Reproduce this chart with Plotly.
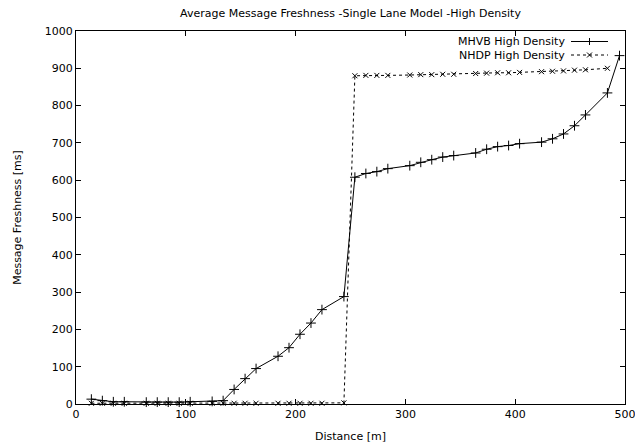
import plotly.graph_objects as go

# Data
mhvb_x = [14, 24, 34, 44, 64, 74, 84, 94, 104, 124, 134, 144, 154, 164, 184, 194,
          204, 214, 224, 244, 254, 264, 274, 284, 304, 314, 324, 334, 344, 364,
          374, 384, 394, 404, 424, 434, 444, 454, 464, 484, 495]
mhvb_y = [13, 9, 6, 6, 5, 5, 5, 5, 6, 7, 9, 39, 68, 95, 128, 151,
          187, 217, 253, 288, 608, 618, 623, 631, 639, 648, 655, 662, 666, 673,
          683, 690, 693, 698, 702, 711, 724, 746, 775, 834, 934]

nhdp_x = [14, 24, 34, 44, 64, 74, 84, 94, 104, 124, 134, 144, 154, 164, 184, 194,
          204, 214, 224, 244, 254, 264, 274, 284, 304, 314, 324, 334, 344, 364,
          374, 384, 394, 404, 424, 434, 444, 454, 464, 484]
nhdp_y = [2, 2, 2, 2, 2, 2, 2, 2, 2, 2, 2, 2, 2, 2, 2, 2,
          2, 2, 2, 3, 880, 881, 881, 881, 882, 883, 883, 884, 884, 886,
          887, 888, 888, 889, 891, 892, 893, 895, 896, 900]

x_ticks = [0, 100, 200, 300, 400, 500]
y_ticks = [0, 100, 200, 300, 400, 500, 600, 700, 800, 900, 1000]

series_names = ["MHVB High Density", "NHDP High Density"]
title = "Average Message Freshness -Single Lane Model -High Density"
x_title = "Distance [m]"
y_title = "Message Freshness [ms]"

FONT = "DejaVu Sans, Liberation Sans, Arial, sans-serif"
FS = 11

W, H = 635, 446
ML, MR, MT, MB = 76, 10, 31, 42
PW, PH = W - ML - MR, H - MT - MB

fig = go.Figure()
fig.add_trace(go.Scatter(
    x=mhvb_x, y=mhvb_y, mode="lines+markers", name=series_names[0],
    line=dict(color="black", width=1),
    marker=dict(symbol="cross-thin", size=7, color="black",
                line=dict(color="black", width=1)),
    showlegend=False, cliponaxis=False,
))
fig.add_trace(go.Scatter(
    x=nhdp_x, y=nhdp_y, mode="lines+markers", name=series_names[1],
    line=dict(color="black", width=1, dash="3px,3px"),
    marker=dict(symbol="x-thin", size=5, color="black",
                line=dict(color="black", width=1)),
    showlegend=False, cliponaxis=False,
))

axis_common = dict(
    showgrid=False, zeroline=False, showline=True, linecolor="black",
    linewidth=1, ticks="inside", ticklen=5, tickcolor="black", mirror="allticks",
    tickfont=dict(family=FONT, size=FS, color="black"), automargin=False,
    ticklabeloverflow="allow",
)

# window pixel -> paper coordinates
def px_to_paper_x(p):
    return (p - ML) / PW

def px_to_paper_y(p):
    return (H - MB - p) / PH

key_text_right = px_to_paper_x(567)
key_rows = [px_to_paper_y(41.5), px_to_paper_y(55)]
key_x0, key_x1 = px_to_paper_x(571), px_to_paper_x(608)
key_mid = px_to_paper_x(589.5)
dx, dy = 3.5 / PW, 3.5 / PH

annotations = []
shapes = []
for i, name in enumerate(series_names):
    yk = key_rows[i]
    annotations.append(dict(
        text=name, xref="paper", yref="paper", x=key_text_right, y=yk,
        xanchor="right", yanchor="middle", showarrow=False,
        font=dict(family=FONT, size=FS, color="black"),
    ))
    shapes.append(dict(
        type="line", xref="paper", yref="paper", x0=key_x0, x1=key_x1,
        y0=yk, y1=yk,
        line=dict(color="black", width=1, dash="solid" if i == 0 else "3px,3px"),
    ))
    if i == 0:
        shapes.append(dict(type="line", xref="paper", yref="paper",
                           x0=key_mid - dx, x1=key_mid + dx, y0=yk, y1=yk,
                           line=dict(color="black", width=1)))
        shapes.append(dict(type="line", xref="paper", yref="paper",
                           x0=key_mid, x1=key_mid, y0=yk - dy, y1=yk + dy,
                           line=dict(color="black", width=1)))
    else:
        d2x, d2y = 2.5 / PW, 2.5 / PH
        shapes.append(dict(type="line", xref="paper", yref="paper",
                           x0=key_mid - d2x, x1=key_mid + d2x,
                           y0=yk - d2y, y1=yk + d2y,
                           line=dict(color="black", width=1)))
        shapes.append(dict(type="line", xref="paper", yref="paper",
                           x0=key_mid - d2x, x1=key_mid + d2x,
                           y0=yk + d2y, y1=yk - d2y,
                           line=dict(color="black", width=1)))

fig.update_layout(
    width=W, height=H,
    margin=dict(l=ML, r=MR, t=MT, b=MB, pad=0),
    paper_bgcolor="white", plot_bgcolor="white",
    font=dict(family=FONT, size=FS, color="black"),
    title=dict(text=title, x=0.5, xref="paper", xanchor="center",
               y=1 - 13 / H, yref="container", yanchor="middle",
               font=dict(family=FONT, size=FS, color="black")),
    xaxis=dict(range=[0, 500], tickvals=x_ticks,
               title=dict(text=x_title, standoff=12,
                          font=dict(family=FONT, size=FS)), **axis_common),
    yaxis=dict(range=[0, 1000], tickvals=y_ticks,
               title=dict(text=y_title, standoff=20,
                          font=dict(family=FONT, size=FS)), **axis_common),
    showlegend=False,
    annotations=annotations,
    shapes=shapes,
)

fig.write_html(
    "out.html",
    config={"displayModeBar": False},
    post_script="document.body.style.margin='0';document.body.style.overflow='hidden';",
)
